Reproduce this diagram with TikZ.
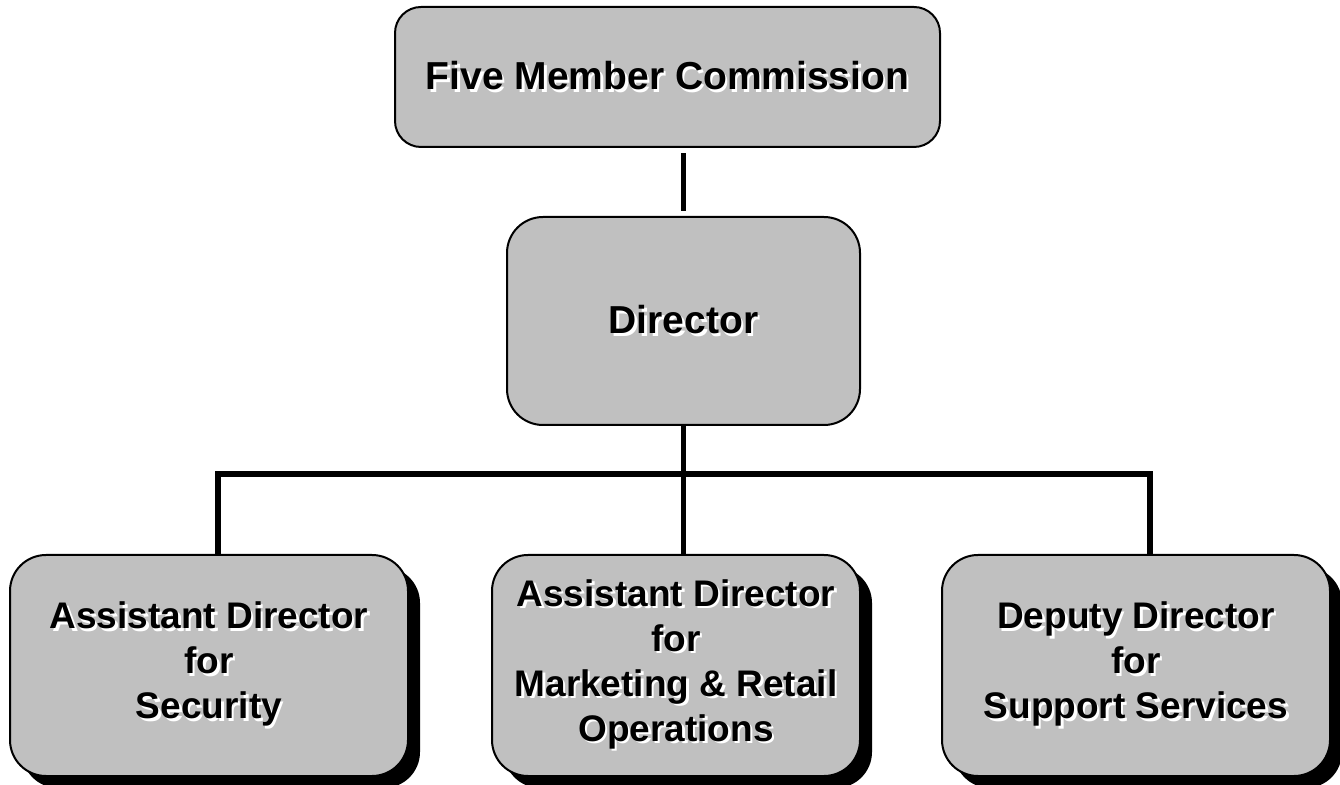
\documentclass[tikz,border=0pt]{standalone}
\usepackage{fontspec}
\setmainfont{Liberation Sans}
\usetikzlibrary{positioning,shadows}

\definecolor{boxgray}{RGB}{192,192,192}
% text with a small white shadow
\newcommand{\sh}[1]{\leavevmode\rlap{\kern2.5pt\raisebox{-2.5pt}{\textcolor{white}{#1}}}#1}

\begin{document}
\begin{tikzpicture}[x=1pt,y=1pt,node distance=68pt,
        box/.style={draw,line width=2pt,fill=boxgray,align=center,inner sep=0pt,
          font=\fontsize{39}{47}\selectfont\bfseries},
        sub box/.style={box,rounded corners=36pt,minimum width=#1,minimum height=221pt,
          font=\fontsize{37}{45}\selectfont\bfseries,
          drop shadow={shadow xshift=12pt,shadow yshift=-12pt,fill=black,opacity=1}},
        link/.style={line width=5pt}]
        \useasboundingbox (0,0) rectangle (1340,784);
        \node[box,rounded corners=26pt,minimum width=545pt,minimum height=140pt] (commission) at (667.5,707) {\sh{Five Member Commission}};
        \node[box,rounded corners=36pt,minimum width=353pt,minimum height=208pt] (director) [below=of commission,xshift=16pt] {\sh{Director}};
        \node[sub box=368pt] (marketing) [below=128pt of director,xshift=-7.5pt] {\sh{Assistant Director}\\ \sh{for}\\ \sh{Marketing \& Retail}\\ \sh{Operations}};
        \node[sub box=398pt] (security) [left=82pt of marketing] {\sh{Assistant Director}\\ \sh{for}\\ \sh{Security}};
        \node[sub box=388pt] (support) [right=80pt of marketing] {\sh{Deputy Director}\\ \sh{for}\\ \sh{Support Services}};
        \draw[link,shorten <=5pt,shorten >=5pt] (director.north) -- (director.north |- commission.south);
        \draw[link] (director.south) -- ++(0,-48) coordinate (bus);
        \draw[link,line width=6pt] ([xshift=9pt]security.north) |- (bus) -| ([xshift=14pt]support.north);
        \draw[link] (bus) -- (bus |- marketing.north);
\end{tikzpicture}
\end{document}
